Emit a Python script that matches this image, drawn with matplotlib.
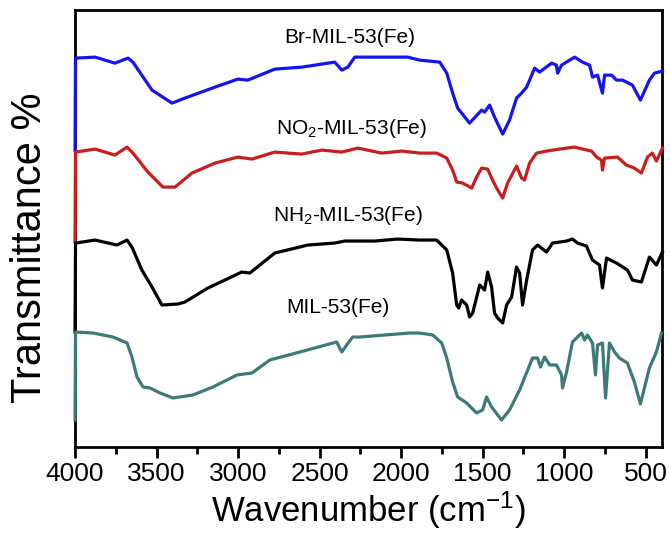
import matplotlib
matplotlib.use("Agg")
import matplotlib.pyplot as plt
from matplotlib.ticker import MultipleLocator

plt.rcParams['font.family'] = ['Liberation Sans', 'DejaVu Sans']
plt.rcParams['mathtext.fontset'] = 'custom'
plt.rcParams['mathtext.rm'] = 'Liberation Sans'
plt.rcParams['mathtext.it'] = 'Liberation Sans:italic'

# ---- data (wavenumber cm^-1, stacked transmittance a.u.) ----
br_wn = [4000, 3997, 3877, 3755, 3675, 3645, 3528, 3405, 3326, 3142, 3001, 2940, 2775, 2609, 2407,
         2364, 2327, 2284, 1960, 1886, 1763, 1720, 1684, 1653, 1580, 1506, 1488, 1457, 1427, 1377,
         1335, 1292, 1261, 1230, 1181, 1151, 1077, 1047, 1040, 1016, 936, 887, 844, 826, 795, 765,
         752, 709, 679, 642, 581, 532, 477, 446, 397]
br_t = [297, 389, 390, 384, 389, 385, 357, 344, 349, 360, 368, 367, 378, 380, 385,
        377, 380, 390, 390, 387, 385, 374, 354, 339, 324, 337, 335, 342, 330, 313,
        327, 349, 354, 360, 379, 375, 384, 382, 374, 382, 390, 385, 382, 370, 372, 354,
        372, 372, 367, 367, 362, 347, 367, 374, 376]

no2_wn = [4000, 3997, 3877, 3755, 3681, 3645, 3553, 3461, 3387, 3283, 3142, 3001, 2915, 2775, 2609,
          2487, 2364, 2266, 2119, 1996, 1886, 1782, 1720, 1684, 1659, 1623, 1567, 1537, 1506, 1469,
          1445, 1414, 1377, 1347, 1292, 1261, 1243, 1212, 1169, 1108, 1028, 936, 887, 832, 801,
          771, 765, 752, 673, 618, 569, 526, 489, 459, 434, 397]
no2_t = [205, 295, 298, 292, 300, 294, 275, 260, 260, 274, 284, 290, 288, 295, 293,
         297, 295, 299, 294, 296, 294, 294, 289, 277, 265, 264, 259, 270, 279, 278,
         269, 259, 249, 264, 281, 269, 267, 284, 294, 296, 298, 300, 298, 296, 290,
         287, 277, 289, 290, 282, 279, 274, 290, 294, 286, 299]

nh2_wn = [4000, 3997, 3877, 3743, 3681, 3651, 3590, 3528, 3467, 3369, 3326, 3185, 2977, 2928, 2775,
          2572, 2407, 2346, 2162, 2021, 1886, 1782, 1720, 1684, 1659, 1647, 1629, 1598, 1580, 1561,
          1518, 1488, 1469, 1445, 1427, 1408, 1377, 1353, 1322, 1292, 1273, 1255, 1230, 1194, 1163,
          1108, 1071, 985, 949, 918, 863, 826, 783, 765, 740, 679, 612, 581, 526, 477, 434, 397]
nh2_t = [115, 204, 207, 202, 207, 200, 177, 160, 142, 143, 145, 159, 175, 174, 194,
         202, 204, 206, 206, 208, 207, 207, 197, 174, 142, 139, 147, 142, 130, 134,
         162, 157, 175, 160, 134, 129, 124, 142, 150, 180, 174, 142, 167, 197, 202,
         195, 204, 206, 208, 204, 201, 187, 182, 159, 189, 184, 177, 167, 165, 190, 182, 195]

mil_wn = [4000, 3997, 3890, 3767, 3681, 3651, 3620, 3583, 3540, 3479, 3400, 3277, 3154, 3007, 2915,
          2805, 2621, 2395, 2364, 2334, 2297, 2254, 1947, 1886, 1806, 1751, 1720, 1684, 1653, 1598,
          1537, 1500, 1476, 1445, 1384, 1335, 1273, 1194, 1163, 1145, 1120, 1089, 1047, 1016, 1010,
          985, 949, 893, 875, 857, 826, 808, 795, 765, 746, 722, 691, 661, 612, 569, 532, 477, 434, 403]
mil_t = [27, 115, 114, 110, 104, 90, 70, 60, 59, 54, 49, 52, 60, 72, 74,
         87, 95, 105, 95, 102, 110, 110, 114, 114, 112, 104, 89, 65, 50, 44,
         34, 37, 50, 40, 27, 37, 57, 89, 89, 80, 90, 82, 82, 72, 59,
         75, 105, 114, 107, 112, 104, 72, 102, 104, 49, 104, 95, 89, 84, 65, 43, 79, 95, 114]

labels = ['Br-MIL-53(Fe)', 'NO$_2$-MIL-53(Fe)', 'NH$_2$-MIL-53(Fe)', 'MIL-53(Fe)']
colors = ['#1414f0', '#c81e1e', '#000000', '#3d7b78']

fig = plt.figure(figsize=(6.7, 5.34), dpi=100)
ax = fig.add_axes([0.112, 0.163, 0.876, 0.818])

series = [(br_wn, br_t), (no2_wn, no2_t), (nh2_wn, nh2_t), (mil_wn, mil_t)]
for (w, t), c in zip(series, colors):
    ax.plot(w, t, color=c, lw=2.3, solid_joinstyle='round', zorder=3, clip_on=False)

label_pos = [(2315, 410), (2303, 319), (2327, 232), (2389, 140)]
for (x, y), lab in zip(label_pos, labels):
    ax.text(x, y, lab, ha='center', va='center', fontsize=15)

ax.set_xlim(4000, 400)
ax.set_ylim(0, 437)
ax.xaxis.set_major_locator(MultipleLocator(500))
ax.xaxis.set_minor_locator(MultipleLocator(250))
ax.set_yticks([])
ax.tick_params(axis='x', which='major', direction='out', length=8, width=2, labelsize=19, pad=3)
ax.tick_params(axis='x', which='minor', direction='out', length=5, width=2)
for s in ax.spines.values():
    s.set_linewidth(2)

ax.set_xlabel('Wavenumber (cm$^{-1}$)', fontsize=25, labelpad=2)
ax.set_ylabel('Transmittance %', fontsize=30)
ax.yaxis.set_label_coords(-0.043, 0.455)

fig.savefig('out.png', dpi=100)
